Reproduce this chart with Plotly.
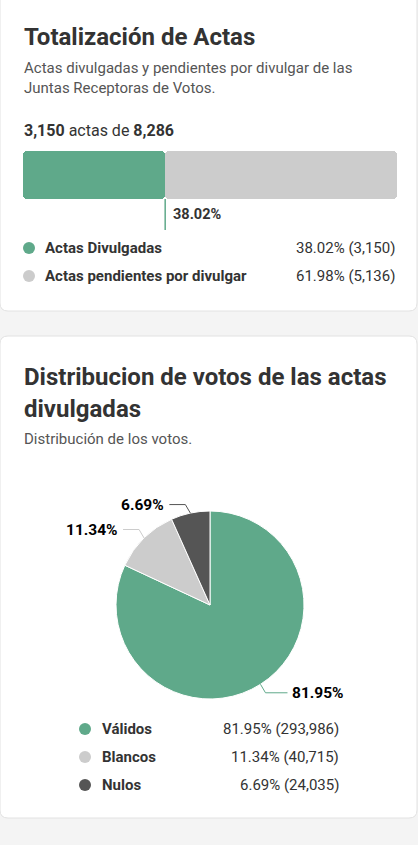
import math
import plotly.graph_objects as go

W, H = 418, 845

# data
acta_labels = ["Actas Divulgadas", "Actas pendientes por divulgar"]
acta_values = [3150, 5136]
acta_total = 8286
acta_pct = [38.02, 61.98]

voto_labels = ["Válidos", "Blancos", "Nulos"]
voto_values = [293986, 40715, 24035]
voto_pct = [81.95, 11.34, 6.69]

GREEN = "#5fa98a"
LIGHT = "#cccccc"
DARK = "#555555"
TEXT = "#333333"
SUB = "#555555"
acta_colors = [GREEN, LIGHT]
voto_colors = [GREEN, LIGHT, DARK]

FONT = "Roboto"


def X(px):
    return px / W


def Y(py):
    return 1 - py / H


def card(x0, y0, x1, y1, r=8):
    # rounded rectangle path in paper coords
    p = (f"M {X(x0 + r)},{Y(y0)} L {X(x1 - r)},{Y(y0)} "
         f"Q {X(x1)},{Y(y0)} {X(x1)},{Y(y0 + r)} L {X(x1)},{Y(y1 - r)} "
         f"Q {X(x1)},{Y(y1)} {X(x1 - r)},{Y(y1)} L {X(x0 + r)},{Y(y1)} "
         f"Q {X(x0)},{Y(y1)} {X(x0)},{Y(y1 - r)} L {X(x0)},{Y(y0 + r)} "
         f"Q {X(x0)},{Y(y0)} {X(x0 + r)},{Y(y0)} Z")
    return dict(type="path", path=p, xref="paper", yref="paper",
                fillcolor="white", line=dict(color="#e2e2e2", width=1), layer="below")


fig = go.Figure()

# progress bar: green drawn back from its end so the rounded side is on the left
fig.add_trace(go.Bar(
    y=[0], x=[-acta_values[0]], base=[acta_values[0]], orientation="h",
    marker=dict(color=acta_colors[0], line=dict(width=0), cornerradius=4),
    hoverinfo="skip", showlegend=False,
))
fig.add_trace(go.Bar(
    y=[0], x=[acta_values[1]], base=[acta_values[0]], orientation="h",
    marker=dict(color=acta_colors[1], line=dict(width=0), cornerradius=4),
    hoverinfo="skip", showlegend=False,
))

# pie
PCX, PCY, PR = 210, 605, 94
fig.add_trace(go.Pie(
    labels=voto_labels, values=voto_values,
    marker=dict(colors=voto_colors, line=dict(color="white", width=1)),
    sort=False, direction="clockwise", rotation=0,
    textinfo="none",
    domain=dict(x=[X(PCX - PR), X(PCX + PR)], y=[Y(PCY + PR), Y(PCY - PR)]),
    showlegend=False, hoverinfo="skip",
))

shapes = [card(0, -20, 417, 311), card(0, 336, 417, 818)]

# marker line under the bar
shapes.append(dict(type="line", xref="x", yref="paper",
                   x0=acta_values[0], x1=acta_values[0], y0=Y(199), y1=Y(230),
                   line=dict(color=GREEN, width=1.5)))

ann = []


def txt(x, y, s, size, color=TEXT, bold=False, anchor="left"):
    ann.append(dict(x=x, y=Y(y), xref="paper", yref="paper", text=s, showarrow=False,
                    xanchor=anchor, yanchor="middle",
                    font=dict(family=FONT, size=size, color=color,
                              weight="bold" if bold else "normal")))


# pie outside labels with elbow leader lines, from slice mid angles
total = sum(voto_values)
cum = 0
for val, p, col in zip(voto_values, voto_pct, voto_colors):
    mid = (cum + val / 2) / total * 2 * math.pi
    cum += val
    dx, dy = math.sin(mid), -math.cos(mid)
    ex, ey = PCX + PR * dx, PCY + PR * dy
    side = 1 if dx > 0 else -1
    bx, by = ex + side * 5, ey + (8.5 if dy > 0 else -8.5)
    hx = bx + side * (22 if side > 0 else 16)
    shapes.append(dict(type="path", xref="paper", yref="paper",
                       path=f"M {X(ex)},{Y(ey)} L {X(bx)},{Y(by)} L {X(hx)},{Y(by)}",
                       line=dict(color=col, width=1)))
    txt(X(hx + side * 3), by, f"{p:.2f}%", 15.5, color="black", bold=True,
        anchor="left" if side > 0 else "right")

txt(X(22), 37, "Totalización de Actas", 24, bold=True)
txt(X(22), 68, "Actas divulgadas y pendientes por divulgar de las", 15, color=SUB)
txt(X(22), 88, "Juntas Receptoras de Votos.", 15, color=SUB)
txt(X(22), 130, f"<b>{acta_values[0]:,}</b> actas de <b>{acta_total:,}</b>", 16)
ann.append(dict(x=acta_values[0], y=Y(214), xref="x", yref="paper",
                text=f"{acta_pct[0]:.2f}%", showarrow=False, xanchor="left", xshift=6,
                yanchor="middle", font=dict(family=FONT, size=14.5, color=TEXT, weight="bold")))

for i, (lab, val, p, col) in enumerate(zip(acta_labels, acta_values, acta_pct, acta_colors)):
    yy = 248 + 28 * i
    shapes.append(dict(type="circle", xref="paper", yref="paper",
                       x0=X(23), x1=X(35), y0=Y(yy + 6), y1=Y(yy - 6),
                       fillcolor=col, line=dict(width=0)))
    txt(X(43), yy, lab, 15, bold=True)
    txt(X(397), yy, f"{p:.2f}% ({val:,})", 15, anchor="right")

txt(X(22), 377, "Distribucion de votos de las actas", 24, bold=True)
txt(X(22), 409, "divulgadas", 24, bold=True)
txt(X(22), 439, "Distribución de los votos.", 15, color=SUB)

for i, (lab, val, p, col) in enumerate(zip(voto_labels, voto_values, voto_pct, voto_colors)):
    yy = 729 + 28 * i
    shapes.append(dict(type="circle", xref="paper", yref="paper",
                       x0=X(79), x1=X(91), y0=Y(yy + 6), y1=Y(yy - 6),
                       fillcolor=col, line=dict(width=0)))
    txt(X(100), yy, lab, 15, bold=True)
    txt(X(341), yy, f"{p:.2f}% ({val:,})", 15, anchor="right")

fig.update_layout(
    width=W, height=H,
    margin=dict(l=0, r=0, t=0, b=0),
    paper_bgcolor="#f4f4f4", plot_bgcolor="rgba(0,0,0,0)",
    barmode="overlay", bargap=0,
    xaxis=dict(domain=[X(23), X(397)], range=[0, acta_total], visible=False, fixedrange=True),
    yaxis=dict(domain=[Y(199), Y(151)], range=[-0.5, 0.5], visible=False, fixedrange=True),
    shapes=shapes, annotations=ann,
    font=dict(family=FONT),
)

fig.write_html("out.html", config={"displayModeBar": False},
               post_script="document.body.style.margin='0';")
